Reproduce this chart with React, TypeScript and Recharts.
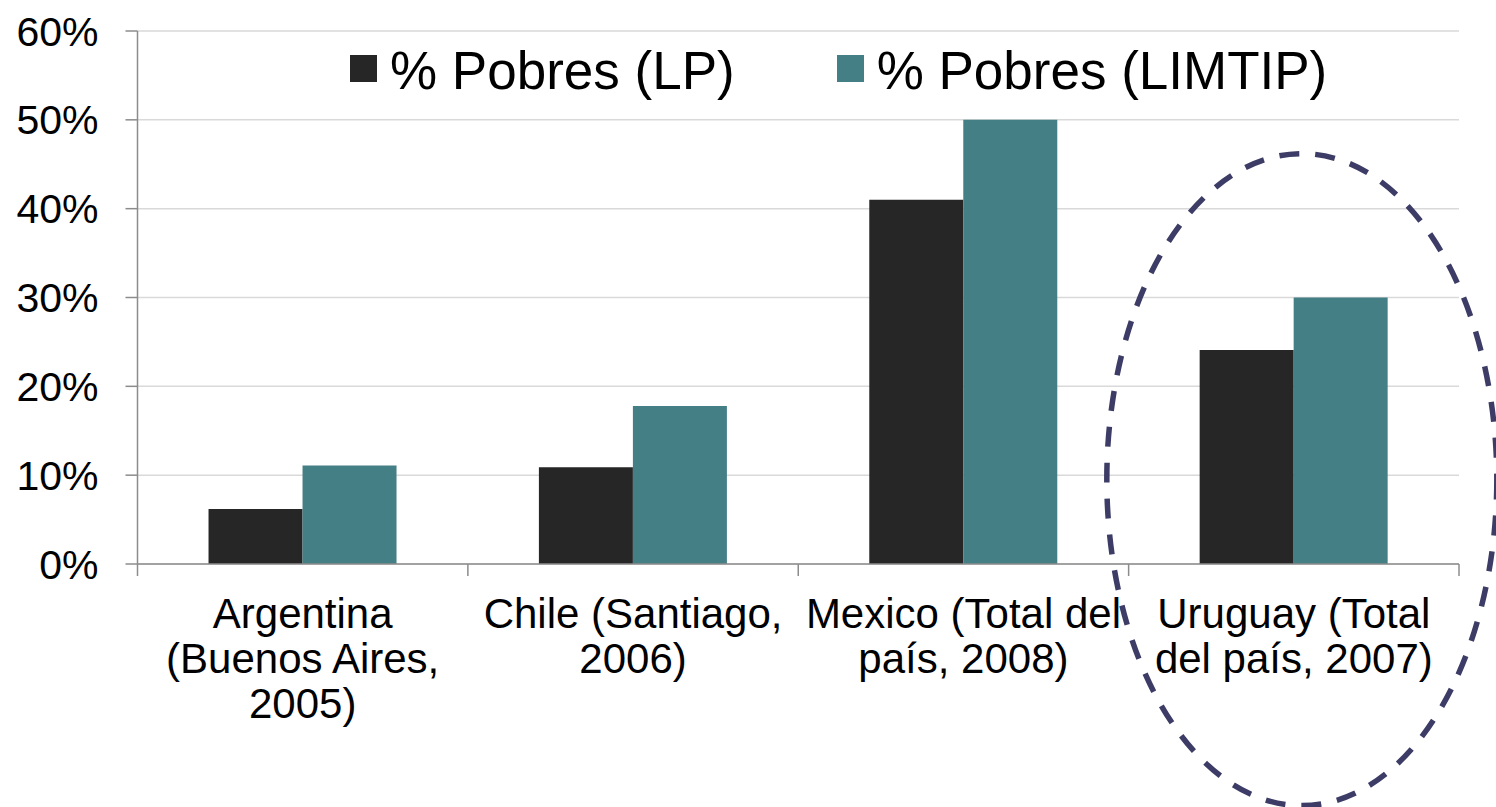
import React from "react";
import {
  BarChart,
  Bar,
  XAxis,
  YAxis,
  CartesianGrid,
  Legend,
  ReferenceDot,
} from "recharts";

const categories = [
  "Argentina (Buenos Aires, 2005)",
  "Chile (Santiago, 2006)",
  "Mexico (Total del país, 2008)",
  "Uruguay (Total del país, 2007)",
];
const categoryLines = [
  ["Argentina", "(Buenos Aires,", "2005)"],
  ["Chile (Santiago,", "2006)"],
  ["Mexico (Total del", "país, 2008)"],
  ["Uruguay (Total", "del país, 2007)"],
];
const seriesNames = ["% Pobres (LP)", "% Pobres (LIMTIP)"];
const pobresLP = [6.2, 10.9, 41.0, 24.1];
const pobresLIMTIP = [11.1, 17.8, 50.0, 30.0];
const yTicks = [0, 10, 20, 30, 40, 50, 60];

// the dashed ring that marks Uruguay
const highlightCategory = categories[3];
const highlightLevel = 9.5;

const data = categories.map((name, i) => ({
  name,
  lp: pobresLP[i],
  limtip: pobresLIMTIP[i],
}));

const FONT = "'Liberation Sans', Arial, sans-serif";
const AXIS = "#8c8c8c";

const CategoryTick = (props: any) => {
  const { x, y, payload, index, visibleTicksCount, width } = props;
  const half = payload.offset || width / (2 * visibleTicksCount);
  const lines = categoryLines[index] ?? [payload.value];
  return (
    <g>
      <line x1={x - half} y1={y} x2={x - half} y2={y + 12} stroke={AXIS} strokeWidth={1.5} />
      {index === visibleTicksCount - 1 && (
        <line x1={x + half} y1={y} x2={x + half} y2={y + 12} stroke={AXIS} strokeWidth={1.5} />
      )}
      <text x={x} y={y + 64} textAnchor="middle" fontSize={42} fill="#000" fontFamily={FONT}>
        {lines.map((l: string, i: number) => (
          <tspan key={i} x={x} dy={i === 0 ? 0 : 45}>
            {l}
          </tspan>
        ))}
      </text>
    </g>
  );
};

const renderLegend = (props: any) => {
  const items = [...(props.payload || [])].sort(
    (a: any, b: any) => seriesNames.indexOf(a.value) - seriesNames.indexOf(b.value)
  );
  return (
    <div style={{ display: "flex", alignItems: "center", fontFamily: FONT }}>
      {items.map((entry: any, i: number) => (
        <div
          key={i}
          style={{ display: "flex", alignItems: "center", marginRight: i === 0 ? 102 : 0 }}
        >
          <span
            style={{
              display: "inline-block",
              width: 27,
              height: 27,
              background: entry.color,
              marginRight: 13,
              position: "relative",
              top: -3,
            }}
          />
          <span style={{ fontSize: 53, color: "#000", lineHeight: "60px" }}>{entry.value}</span>
        </div>
      ))}
    </div>
  );
};

const Ring = (p: any) => (
  <ellipse
    cx={p.cx + 8}
    cy={p.cy}
    rx={195}
    ry={326}
    fill="none"
    stroke="#3c3c66"
    strokeWidth={5.5}
    strokeDasharray="20 16"
  />
);

export default function App() {
  return (
    <div style={{ position: "absolute", left: 0, top: 0, width: 1496, height: 807, background: "#fff" }}>
      <BarChart
        width={1496}
        height={807}
        data={data}
        margin={{ top: 31, right: 37, bottom: 0, left: 0 }}
        barCategoryGap="21.5%"
        barGap={0}
        style={{ fontFamily: FONT }}
      >
        <CartesianGrid vertical={false} stroke="#d9d9d9" strokeWidth={1.5} />
        <XAxis
          dataKey="name"
          height={243}
          tickLine={false}
          tickSize={0}
          tickMargin={0}
          interval={0}
          stroke={AXIS}
          strokeWidth={1.5}
          tick={<CategoryTick />}
        />
        <YAxis
          width={137.5}
          domain={[0, 60]}
          ticks={yTicks}
          tickFormatter={(v: number) => `${v}%`}
          tickSize={12}
          tickMargin={27}
          stroke={AXIS}
          strokeWidth={1.5}
          tick={{ fill: "#000", fontSize: 41, fontFamily: FONT }}
        />
        <Legend
          layout="horizontal"
          verticalAlign="middle"
          align="center"
          content={renderLegend}
          wrapperStyle={{ top: 41, left: 350, width: 1100 }}
        />
        <Bar dataKey="lp" name={seriesNames[0]} fill="#262626" isAnimationActive={false} />
        <Bar dataKey="limtip" name={seriesNames[1]} fill="#447f85" isAnimationActive={false} />
        <ReferenceDot
          x={highlightCategory}
          y={highlightLevel}
          ifOverflow="visible"
          shape={(p: any) => <Ring {...p} />}
        />
      </BarChart>
    </div>
  );
}
